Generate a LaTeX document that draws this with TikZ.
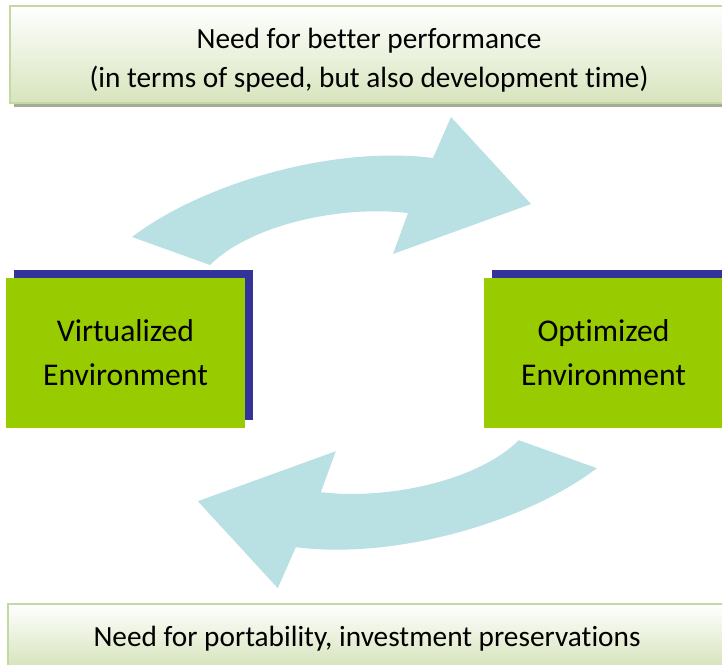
\documentclass[tikz,border=0pt]{standalone}
\usepackage{fontspec}
\setmainfont{Carlito}[Ligatures=NoCommon]
\usepackage{tikz}
\usetikzlibrary{shadows}

\definecolor{envgreen}{HTML}{99CC00}
\definecolor{envblue}{HTML}{333399}
\definecolor{cycleblue}{HTML}{B9E0E3}
\definecolor{needborder}{HTML}{C4D9A0}
\definecolor{needbottom}{HTML}{D7E4BD}
\definecolor{needshadow}{HTML}{A5AE95}

\tikzset{
	envbox/.style={fill=envgreen, inner sep=0pt, minimum width=7.17cm, minimum height=4.5cm,
		align=center, font=\fontsize{27}{37}\selectfont,
		general shadow={fill=envblue, shadow xshift=0.24cm, shadow yshift=0.24cm}},
	needbox/.style={draw=needborder, line width=0.08cm, top color=white, bottom color=needbottom,
		inner sep=0pt, align=center, font=\fontsize{25}{34}\selectfont,
		general shadow={fill=needshadow, shadow xshift=0.12cm, shadow yshift=-0.12cm}},
	cyclearrow/.style={fill=cycleblue}
}

\begin{document}
\begin{tikzpicture}[x=0.03cm, y=-0.03cm]
\useasboundingbox (0, 0) rectangle (722, 664);
\clip (0, 0) rectangle (722, 664);

% curved arrows
\fill[cyclearrow] (132, 237) .. controls (200, 185) and (330, 145) .. (433, 158)
	-- (451, 117) -- (531, 204) -- (393, 254) -- (408, 213)
	.. controls (340, 205) and (250, 225) .. (210, 265) -- cycle;
\fill[cyclearrow] (596.8, 468.2) .. controls (528.8, 520.2) and (398.8, 560.2) .. (295.8, 547.2)
	-- (277.8, 588.2) -- (197.8, 501.2) -- (335.8, 451.2) -- (320.8, 492.2)
	.. controls (388.8, 500.2) and (478.8, 480.2) .. (518.8, 440.2) -- cycle;

% needs
\node[needbox, minimum width=21.54cm, minimum height=2.91cm] (perf) at (369, 54.5)
	{\rule{0pt}{27pt}Need for better performance\\(in terms of speed, but also development time)};
\node[needbox, minimum width=21.54cm, minimum height=1.86cm] (port) at (367, 635)
	{\rule{0pt}{23pt}Need for portability, investment preservations};

% environments
\node[envbox] (virt) at (125.5, 352.5) {Virtualized\\Environment};
\node[envbox] (opt) at (603.5, 352.5) {Optimized\\Environment};
\end{tikzpicture}
\end{document}
